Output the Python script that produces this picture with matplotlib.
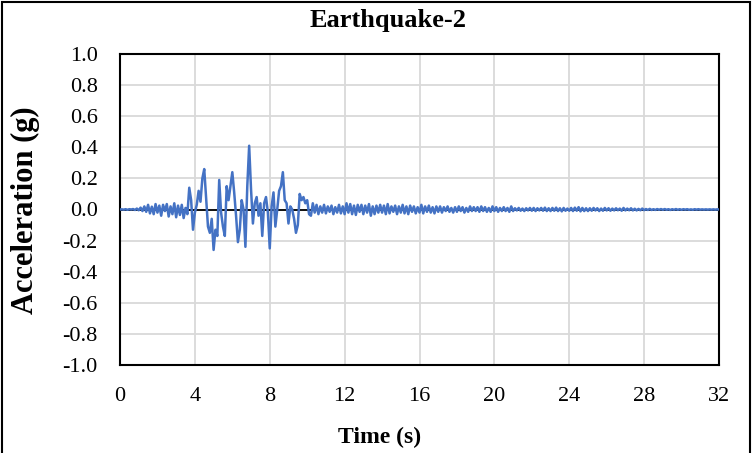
import matplotlib.pyplot as plt
from matplotlib.patches import Rectangle

# Ground acceleration record at 0.1 s spacing.
time_start_s = 0.0
time_step_s = 0.1
accel_g = [
    # 0-1 s
    0.000, 0.001, -0.001, 0.002, -0.002, 0.002, 0.000, 0.003, -0.003, 0.006,
    # 1-2 s
    -0.005, 0.012, -0.010, 0.020, -0.015, 0.030, -0.025, 0.018, -0.030, 0.035,
    # 2-3 s
    -0.020, 0.025, -0.040, 0.030, -0.010, 0.035, -0.045, 0.020, -0.030, 0.040,
    # 3-4 s
    -0.050, 0.025, -0.035, 0.030, -0.055, 0.010, -0.030, 0.140, 0.060, -0.130,
    # 4-5 s
    -0.020, 0.030, 0.120, 0.050, 0.200, 0.260, 0.080, -0.110, -0.150, -0.060,
    # 5-6 s
    -0.260, -0.130, -0.170, 0.190, -0.020, -0.110, -0.170, 0.150, 0.060, 0.150,
    # 6-7 s
    0.240, 0.110, -0.040, -0.210, -0.130, 0.060, 0.000, -0.240, 0.150, 0.410,
    # 7-8 s
    0.130, -0.090, 0.040, 0.080, -0.040, 0.040, -0.170, 0.040, 0.080, -0.020,
    # 8-9 s
    -0.250, 0.020, 0.110, -0.110, 0.000, 0.120, 0.150, 0.240, 0.060, 0.040,
    # 9-10 s
    -0.090, 0.020, 0.000, -0.060, -0.150, -0.100, 0.100, 0.060, 0.080, 0.040,
    # 10-11 s
    0.060, -0.030, -0.040, 0.040, -0.020, 0.030, -0.030, 0.020, -0.020, 0.030,
    # 11-12 s
    -0.025, 0.020, -0.015, 0.025, -0.030, 0.015, -0.020, 0.030, -0.025, 0.020,
    # 12-13 s
    -0.030, 0.040, -0.020, 0.035, -0.030, 0.025, -0.035, 0.030, -0.015, 0.030,
    # 13-14 s
    -0.030, 0.025, -0.020, 0.035, -0.040, 0.020, -0.030, 0.025, -0.020, 0.030,
    # 14-15 s
    -0.020, 0.025, -0.030, 0.035, -0.025, 0.020, -0.015, 0.025, -0.030, 0.020,
    # 15-16 s
    -0.020, 0.030, -0.025, 0.020, -0.030, 0.025, -0.015, 0.020, -0.025, 0.015,
    # 16-17 s
    -0.020, 0.030, -0.025, 0.020, -0.015, 0.025, -0.020, 0.015, -0.025, 0.020,
    # 17-18 s
    -0.015, 0.020, -0.020, 0.015, -0.010, 0.020, -0.015, 0.010, -0.020, 0.015,
    # 18-19 s
    -0.015, 0.020, -0.010, 0.015, -0.020, 0.010, -0.015, 0.020, -0.010, 0.015,
    # 19-20 s
    -0.010, 0.015, -0.015, 0.020, -0.010, 0.015, -0.015, 0.010, -0.015, 0.020,
    # 20-21 s
    -0.010, 0.015, -0.015, 0.010, -0.010, 0.015, -0.010, 0.010, -0.015, 0.020,
    # 21-22 s
    -0.010, 0.008, -0.006, 0.010, -0.008, 0.006, -0.010, 0.008, -0.006, 0.010,
    # 22-23 s
    -0.008, 0.010, -0.010, 0.008, -0.006, 0.010, -0.008, 0.012, -0.010, 0.008,
    # 23-24 s
    -0.010, 0.010, -0.008, 0.012, -0.010, 0.008, -0.012, 0.010, -0.008, 0.006,
    # 24-25 s
    -0.008, 0.010, -0.010, 0.012, -0.008, 0.015, -0.012, 0.010, -0.010, 0.008,
    # 25-26 s
    -0.010, 0.008, -0.008, 0.010, -0.006, 0.008, -0.010, 0.006, -0.008, 0.010,
    # 26-27 s
    -0.006, 0.008, -0.008, 0.006, -0.006, 0.008, -0.005, 0.006, -0.008, 0.010,
    # 27-28 s
    -0.006, 0.006, -0.005, 0.008, -0.006, 0.005, -0.006, 0.004, -0.005, 0.006,
    # 28-29 s
    -0.004, 0.003, -0.003, 0.004, -0.003, 0.002, -0.003, 0.003, -0.002, 0.003,
    # 29-30 s
    -0.002, 0.003, -0.002, 0.002, -0.003, 0.002, -0.002, 0.003, -0.002, 0.002,
    # 30-31 s
    -0.002, 0.002, -0.001, 0.002, -0.002, 0.001, -0.002, 0.002, -0.001, 0.002,
    # 31-32 s
    -0.001, 0.001, -0.001, 0.001, -0.001, 0.001, -0.001, 0.001, -0.001, 0.001,
    0.000,
]
time_s = [time_start_s + i * time_step_s for i in range(len(accel_g))]

x_ticks = [0, 4, 8, 12, 16, 20, 24, 28, 32]
y_ticks = [-1.0, -0.8, -0.6, -0.4, -0.2, 0.0, 0.2, 0.4, 0.6, 0.8, 1.0]

plt.rcParams["font.family"] = ["Liberation Serif", "DejaVu Serif"]

W, H = 754, 453
fig = plt.figure(figsize=(W / 100, H / 100), dpi=100)
ax = fig.add_axes((120 / W, 88 / H, 599 / W, 311 / H))

ax.plot(time_s, accel_g, color="#4472C4", linewidth=1.8, zorder=3)
ax.axhline(0, color="black", linewidth=1.3, zorder=2)

ax.set_xlim(0, 32)
ax.set_ylim(-1.0, 1.0)
ax.set_xticks(x_ticks)
ax.set_yticks(y_ticks)
ax.set_yticklabels([f"{v:.1f}" for v in y_ticks])
ax.tick_params(length=0, labelsize=16)
ax.tick_params(axis="x", pad=16)
ax.tick_params(axis="y", pad=16)
ax.grid(True, color="#D9D9D9", linewidth=1.3, zorder=0)
ax.set_axisbelow(True)
for spine in ax.spines.values():
    spine.set_color("black")
    spine.set_linewidth(1.5)

fig.text(380 / W, 1 - 437 / H, "Time (s)", fontsize=17,
         fontweight="bold", ha="center", va="center")
fig.text(25 / W, 1 - 210 / H, "Acceleration (g)", fontsize=22,
         fontweight="bold", ha="center", va="center", rotation=90)
fig.text(388 / W, 1 - 21 / H, "Earthquake-2", fontsize=19,
         fontweight="bold", ha="center", va="center")

# Outer chart frame.
fig.patches.append(Rectangle((0.002, -0.01), 0.993, 1.006,
                             transform=fig.transFigure, fill=False,
                             edgecolor="black", linewidth=1.5))

fig.savefig("out.png", dpi=100)
